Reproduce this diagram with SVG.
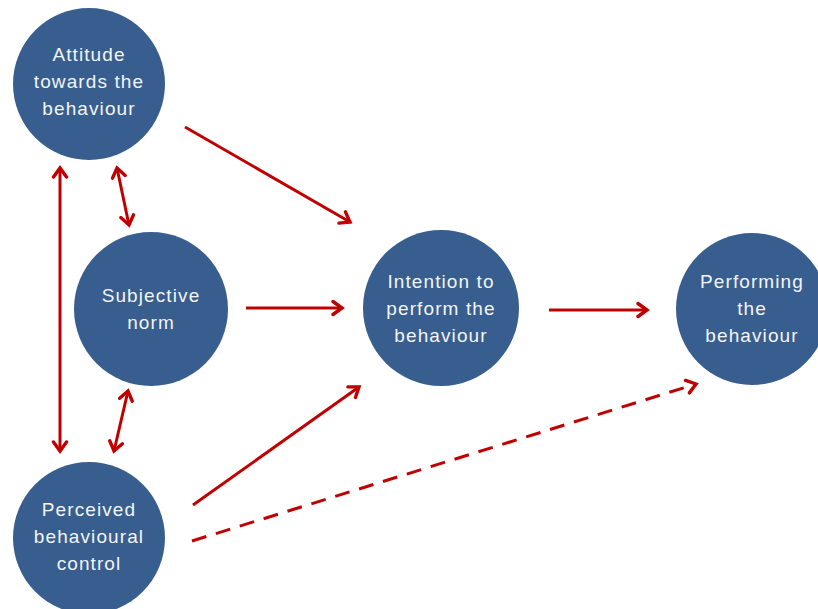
<svg xmlns="http://www.w3.org/2000/svg" width="818" height="609" viewBox="0 0 818 609">
<defs>
<marker id="ah" markerUnits="userSpaceOnUse" markerWidth="18" markerHeight="18" refX="11" refY="9" orient="auto-start-reverse" viewBox="0 0 18 18">
<path d="M2,2.5 L11,9 L2,15.5" fill="none" stroke="#C00000" stroke-width="3.4" stroke-linecap="round" stroke-linejoin="miter"/>
</marker>
</defs>
<style>
.node circle { fill: #375E8F; }
.node text { fill: #F4F4F4; font-family: "Liberation Sans", Arial, sans-serif; font-size: 19px; letter-spacing: 1.1px; text-anchor: middle; }
.conn line { stroke: #C00000; stroke-width: 3; fill: none; }
.dash { stroke-dasharray: 15 10; }
</style>
<rect width="818" height="609" fill="#FFFFFF"/>
<g id="attitude" class="node">
<circle cx="89" cy="84" r="76"/>
<text x="89" y="61">Attitude</text>
<text x="89" y="88">towards the</text>
<text x="89" y="115">behaviour</text>
</g>
<g id="subjective" class="node">
<circle cx="151" cy="309" r="77"/>
<text x="151" y="302">Subjective</text>
<text x="151" y="329">norm</text>
</g>
<g id="intention" class="node">
<circle cx="441" cy="308" r="78"/>
<text x="441" y="288">Intention to</text>
<text x="441" y="315">perform the</text>
<text x="441" y="342">behaviour</text>
</g>
<g id="performing" class="node">
<circle cx="752" cy="309" r="76"/>
<text x="752" y="288">Performing</text>
<text x="752" y="315">the</text>
<text x="752" y="342">behaviour</text>
</g>
<g id="perceived" class="node">
<circle cx="89" cy="538" r="76"/>
<text x="89" y="516">Perceived</text>
<text x="89" y="543">behavioural</text>
<text x="89" y="570">control</text>
</g>
<g id="connectors" class="conn">
<line x1="60" y1="168" x2="60" y2="451" marker-start="url(#ah)" marker-end="url(#ah)"/>
<line x1="117" y1="168" x2="129" y2="225" marker-start="url(#ah)" marker-end="url(#ah)"/>
<line x1="128" y1="391" x2="114" y2="451" marker-start="url(#ah)" marker-end="url(#ah)"/>
<line x1="185" y1="127" x2="350" y2="222" marker-end="url(#ah)"/>
<line x1="246" y1="308" x2="342" y2="308" marker-end="url(#ah)"/>
<line x1="549" y1="310" x2="647" y2="310" marker-end="url(#ah)"/>
<line x1="193" y1="505" x2="359" y2="387" marker-end="url(#ah)"/>
<line x1="192" y1="541" x2="696" y2="384" class="dash" marker-end="url(#ah)"/>
</g>
</svg>
